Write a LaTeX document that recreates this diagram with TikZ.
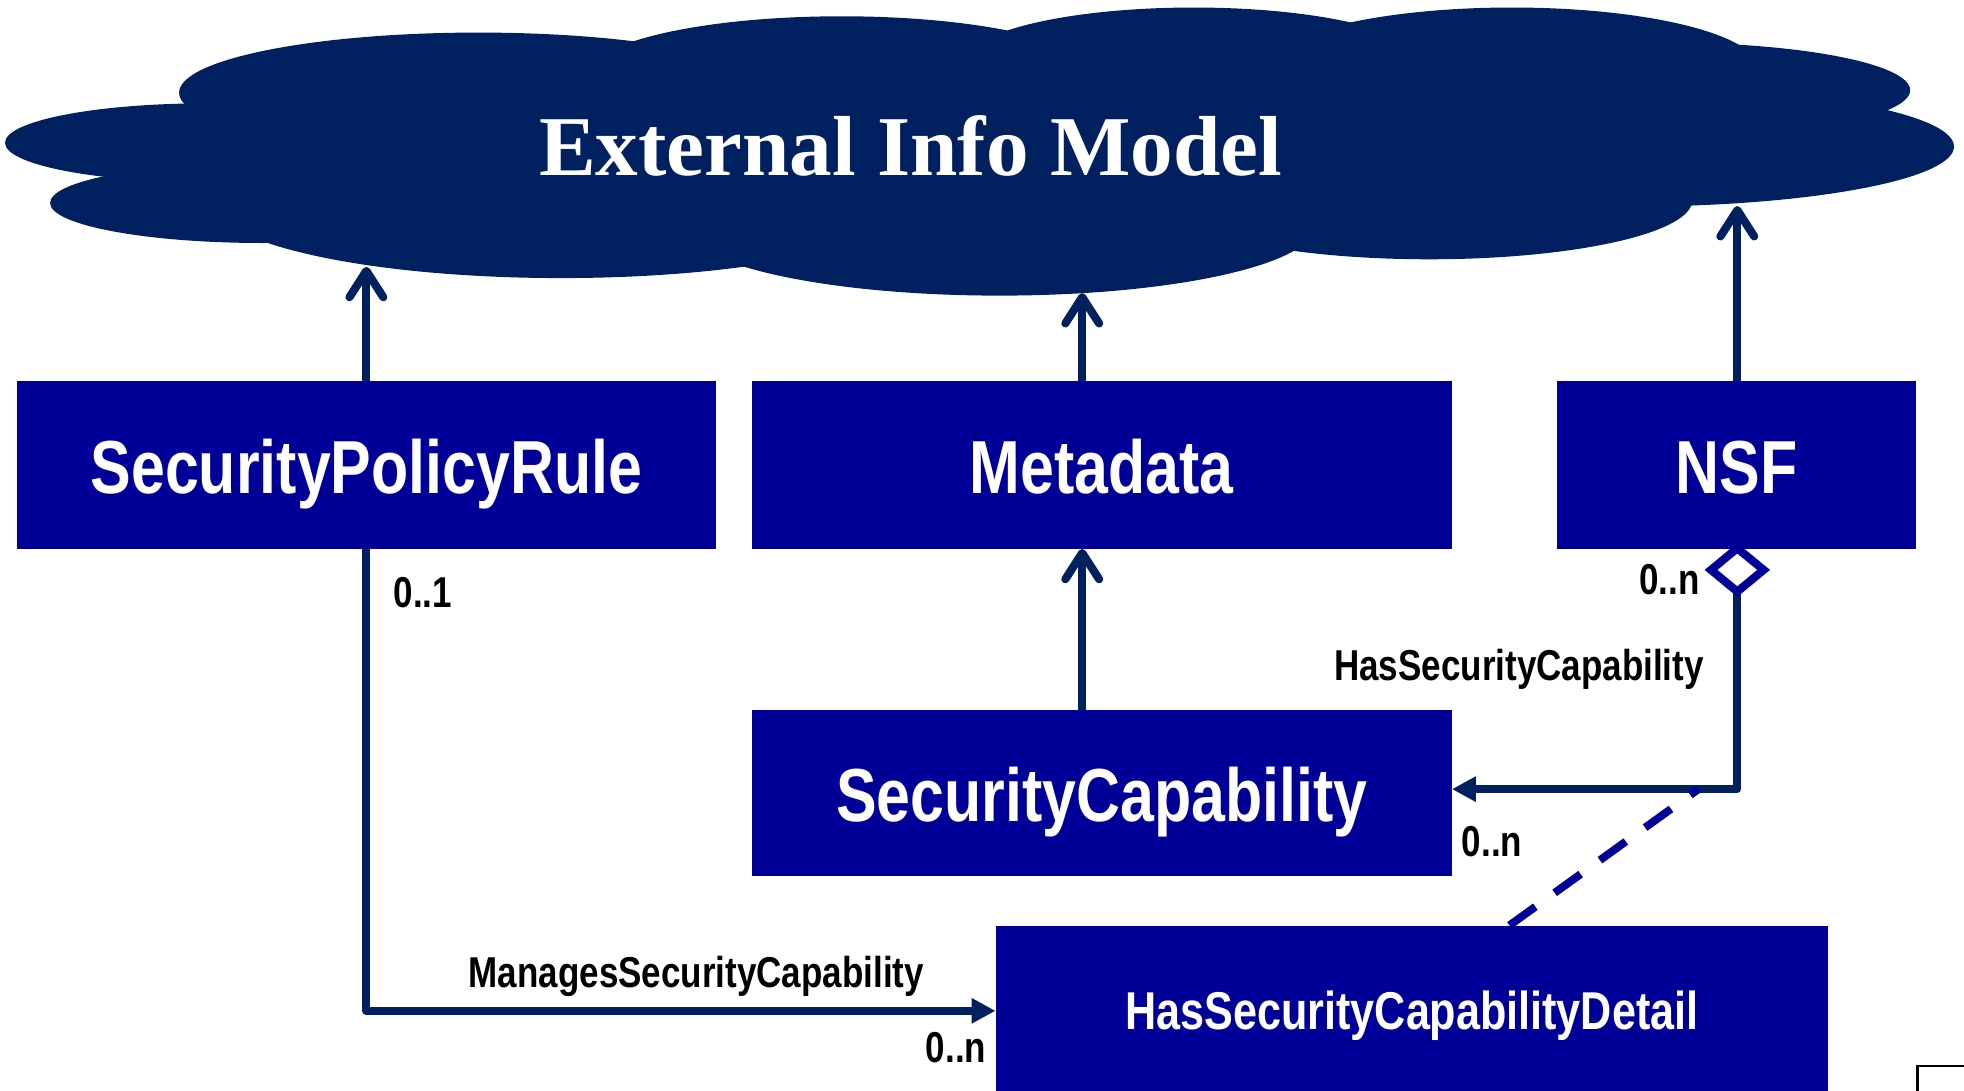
\documentclass[tikz,border=0pt]{standalone}
\usepackage{fontspec}
\newfontfamily\narrowsans[FakeStretch=0.81]{Liberation Sans}
\newfontfamily\titleserif{Liberation Serif}
\usetikzlibrary{arrows.meta,calc}
\definecolor{cloudnavy}{RGB}{0,32,96}
\definecolor{classblue}{RGB}{0,0,153}

\tikzset{
  classbox/.style={fill=classblue, draw=none, inner sep=0pt, text=white,
    font=\narrowsans\bfseries\fontsize{60}{72}\selectfont,
    text height=46pt, text depth=0pt, minimum height=134pt},
  mult/.style={font=\narrowsans\bfseries\fontsize{34.5}{40}\selectfont,
    inner sep=0pt, anchor=base west, text=black},
  link/.style={draw=cloudnavy, line width=6.5pt, line join=round},
  genarrow/.style={link, -{Straight Barb[length=21pt,width=27pt,round]}},
  navarrow/.style={link, -{Triangle[length=19pt,width=19pt]}},
  assocdash/.style={draw=classblue, line width=6.3pt, dash pattern=on 25.5pt off 19pt},
  aggdiamond/.style={draw=classblue, fill=white, line width=6.5pt, line join=miter},
  lobe/.style={fill=cloudnavy, draw=none}
}

\begin{document}
\begin{tikzpicture}[x=1pt,y=-1pt]
\useasboundingbox (0,0) rectangle (1568,871);
\clip (0,0) rectangle (1568,871);

% cloud: union of filled ellipses
\fill[lobe] (165,114)  ellipse [x radius=161pt, y radius=31.5pt];
\fill[lobe] (210,162)  ellipse [x radius=170pt, y radius=32pt];
\fill[lobe] (382,74)   ellipse [x radius=239pt, y radius=48pt];
\fill[lobe] (448,160)  ellipse [x radius=280pt, y radius=62pt];
\fill[lobe] (672,60)   ellipse [x radius=203pt, y radius=47pt];
\fill[lobe] (953,50)   ellipse [x radius=183pt, y radius=44pt];
\fill[lobe] (1207,55)  ellipse [x radius=197pt, y radius=49pt];
\fill[lobe] (1330,72)  ellipse [x radius=195pt, y radius=38pt];
\fill[lobe] (1300,117) ellipse [x radius=260pt, y radius=48pt];
\fill[lobe] (1141,160) ellipse [x radius=210pt, y radius=47pt];
\fill[lobe] (798,180)  ellipse [x radius=252pt, y radius=56pt];
\fill[lobe] (780,120)  ellipse [x radius=560pt, y radius=70pt];

\node[font=\titleserif\bfseries\fontsize{68}{80}\selectfont, text=white,
      inner sep=0pt, anchor=base] (title) at (727,140) {External Info Model};

% attachment points on the cloud edge
\coordinate (cl1) at (292.5,213);
\coordinate (cl2) at (864,234);
\coordinate (cl3) at (1387,164.5);

% classes
\node[classbox, minimum width=558pt] (spr) at (292.5,371) {SecurityPolicyRule};
\node[classbox, minimum width=559pt] (md)  at (879.5,371) {Metadata};
\node[classbox, minimum width=287pt] (nsf) at (1386.5,371) {NSF};
\node[classbox, minimum width=559pt, minimum height=132.5pt] (sc) at (879.5,633) {SecurityCapability};
\node[classbox, minimum width=664.6pt, minimum height=136pt, text height=30pt,
      font=\narrowsans\bfseries\fontsize{42.5}{50}\selectfont] (hscd) at (1127.3,807) {HasSecurityCapabilityDetail};

% generalisations towards the external model
\draw[genarrow] (spr.north -| cl1) -- (cl1);
\draw[genarrow] (md.north -| cl2) -- (cl2);
\draw[genarrow] (nsf.north -| cl3) -- (cl3);
\draw[genarrow] (sc.north -| cl2) -- (md.south -| cl2);

% aggregation NSF -> SecurityCapability
\coordinate (agg) at (1387,455);
\coordinate (aggbot) at (1387,472.3);
\coordinate (hsc) at (1387,630);
\coordinate (dend) at (1356,630);
\draw[navarrow] (aggbot) -- (hsc) -- (hsc -| sc.east);
\draw[aggdiamond] ($(agg)+(0,-17.3)$) -- ($(agg)+(21,0)$) -- (aggbot)
  -- ($(agg)+(-21,0)$) -- cycle;

% association SecurityPolicyRule -> HasSecurityCapabilityDetail
\draw[navarrow] (spr.south) |- (hscd.west);

% association class link
\draw[assocdash] ($(hscd.north west)!0.617!(hscd.north east)$) -- (dend);

% labels
\node[mult] (m1) at (314,485) {0..1};
\node[mult] (m2) at (1308.5,475) {0..n};
\node[mult] (l1) at (1065,543) {HasSecurityCapability};
\node[mult] (m3) at (1167,684) {0..n};
\node[mult] (l2) at (374,788) {ManagesSecurityCapability};
\node[mult] (m4) at (739,848) {0..n};

% partly visible frame at the lower right
\draw[black, line width=2pt] (1531,851) rectangle (1620,920);
\end{tikzpicture}
\end{document}
